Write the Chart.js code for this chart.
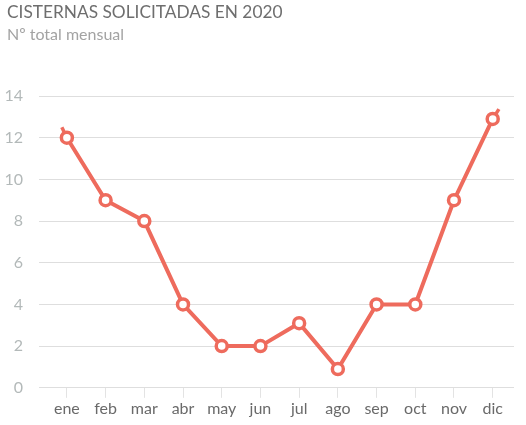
<!DOCTYPE html>
<html>
<head>
<meta charset="utf-8">
<script src="https://cdn.jsdelivr.net/npm/chart.js@4"></script>
<style>
  html, body { margin: 0; padding: 0; background: #fff; }
  #wrap { width: 526px; height: 425px; position: relative; }
  .title { position: absolute; left: 7px; top: 1px; font: 17.3px Lato, sans-serif; color: #6e6e6e; }
  .sub { position: absolute; left: 7px; top: 24px; font: 16px Lato, sans-serif; color: #a3a3a3; }
  #chart { position: absolute; left: 0; top: 0; }
</style>
</head>
<body>
<div id="wrap">
  <canvas id="chart" width="526" height="425"></canvas>
  <div class="title">CISTERNAS SOLICITADAS EN 2020</div>
  <div class="sub">Nº total mensual</div>
</div>
<script>
const months = ['ene', 'feb', 'mar', 'abr', 'may', 'jun', 'jul', 'ago', 'sep', 'oct', 'nov', 'dic'];
const cisternas = [12, 9, 8, 4, 2, 2, 3.1, 0.9, 4, 4, 9, 12.9];
const yTicks = [0, 2, 4, 6, 8, 10, 12, 14];
// little curve overshoot visible at both ends of the line
const stubStart = [{ x: -0.13, y: 12.5 }, { x: 0, y: 12 }];
const stubEnd = [{ x: 11, y: 12.9 }, { x: 11.16, y: 13.37 }];

const red = '#ee6b5d';

new Chart(document.getElementById('chart'), {
  type: 'line',
  data: {
    datasets: [{
      data: cisternas.map((v, i) => ({ x: i, y: v })),
      borderColor: red,
      borderWidth: 4,
      pointRadius: 5.5,
      pointBorderWidth: 3.5,
      pointBackgroundColor: '#fff',
      pointBorderColor: red,
      tension: 0,
      order: 1
    }, {
      data: stubStart,
      borderColor: red,
      borderWidth: 3.5,
      pointRadius: 0,
      order: 2
    }, {
      data: stubEnd,
      borderColor: red,
      borderWidth: 3.5,
      pointRadius: 0,
      order: 2
    }]
  },
  options: {
    responsive: false,
    animation: false,
    layout: { padding: { top: 96, right: 12, left: 0, bottom: 6 } },
    plugins: { legend: { display: false }, tooltip: { enabled: false } },
    scales: {
      x: {
        type: 'linear',
        bounds: 'data',
        min: -0.72,
        max: 11.55,
        afterBuildTicks: axis => { axis.ticks = months.map((m, i) => ({ value: i })); },
        ticks: {
          callback: v => months[v],
          color: '#6a6a6a',
          font: { family: 'Lato', size: 16 },
          padding: 1,
          maxRotation: 0
        },
        grid: { drawOnChartArea: false, tickLength: 10, color: '#e3e3e3', lineWidth: 1 },
        border: { display: false }
      },
      y: {
        min: 0,
        max: 14,
        afterFit: axis => { axis.width = 39; },
        afterBuildTicks: axis => { axis.ticks = yTicks.map(v => ({ value: v })); },
        ticks: {
          color: '#b3b9b9',
          font: { family: 'Lato', size: 16 },
          padding: 16
        },
        grid: { color: '#dedede', lineWidth: 1, drawTicks: false },
        border: { display: false }
      }
    }
  }
});
</script>
</body>
</html>
